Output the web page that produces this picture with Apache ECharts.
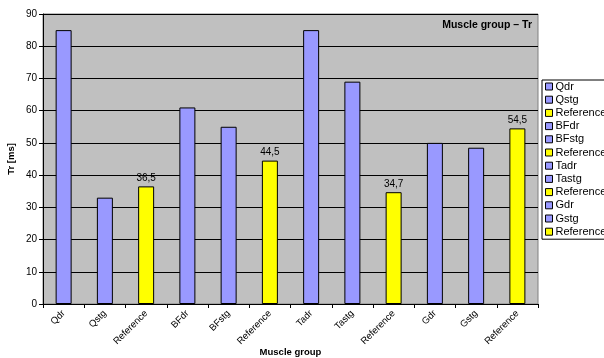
<!DOCTYPE html>
<html>
<head>
<meta charset="utf-8">
<script src="https://cdn.jsdelivr.net/npm/echarts@6/dist/echarts.min.js"></script>
<style>
  html, body { margin: 0; padding: 0; background: #fff; }
  #chart { width: 604px; height: 358px; }
</style>
</head>
<body>
<div id="chart"></div>
<script>
// Relaxation time per muscle and measurement
const categories = ['Qdr', 'Qstg', 'Reference', 'BFdr', 'BFstg', 'Reference',
                    'Tadr', 'Tastg', 'Reference', 'Gdr', 'Gstg', 'Reference'];
const values = [85, 33, 36.5, 61, 55, 44.5, 85, 69, 34.7, 50, 48.5, 54.5];
const yTicks = [0, 10, 20, 30, 40, 50, 60, 70, 80, 90];

const BLUE = '#9999ff';
const YELLOW = '#ffff00';
const FONT = '"Liberation Sans", Arial, sans-serif';

// unique series keys (the three "Reference" bars share a label)
const seriesKeys = categories.map((c, i) => c + '#' + i);

const chart = echarts.init(document.getElementById('chart'), null, { renderer: 'canvas' });

// one series per bar so each gets its own legend entry
const series = categories.map((name, i) => {
  const isRef = name === 'Reference';
  return {
    name: seriesKeys[i],
    type: 'bar',
    barWidth: 16,
    barGap: '-100%',
    data: categories.map((_, j) => (j === i ? values[i] : null)),
    itemStyle: {
      color: isRef ? YELLOW : BLUE,
      borderColor: '#000',
      borderWidth: 1
    },
    label: {
      show: isRef,
      position: 'top',
      distance: 3,
      color: '#000',
      fontFamily: FONT,
      fontSize: 10,
      formatter: p => String(p.value).replace('.', ',')
    },
    animation: false
  };
});

chart.setOption({
  backgroundColor: '#fff',
  animation: false,
  textStyle: { fontFamily: FONT },
  title: {
    text: 'Muscle group \u2013 Tr',
    right: 67,
    top: 15,
    textStyle: { fontFamily: FONT, fontSize: 10.5, fontWeight: 'bold', color: '#000' }
  },
  legend: {
    orient: 'vertical',
    left: 542,
    top: 80,
    width: 80,
    padding: [1, 20, 2, 3],
    backgroundColor: '#fff',
    borderColor: '#000',
    borderWidth: 1,
    borderRadius: 0,
    itemWidth: 7,
    itemHeight: 7,
    itemGap: 2.2,
    icon: 'rect',
    itemStyle: { borderColor: '#000', borderWidth: 1 },
    textStyle: { fontFamily: FONT, fontSize: 11, color: '#000', padding: [0, 0, 0, -2] },
    formatter: key => key.split('#')[0],
    data: seriesKeys.slice(),
    selectedMode: false
  },
  grid: {
    left: 43, right: 66, top: 14, bottom: 54,
    outerBoundsMode: 'none',
    containLabel: false,
    show: true,
    backgroundColor: '#c0c0c0',
    borderColor: '#808080',
    borderWidth: 1
  },
  xAxis: {
    type: 'category',
    data: categories,
    name: 'Muscle group',
    nameLocation: 'middle',
    nameGap: 43,
    nameMoveOverlap: false,
    nameTextStyle: { fontFamily: FONT, fontSize: 9.5, fontWeight: 'bold', color: '#000' },
    axisLine: { lineStyle: { color: '#000', width: 1 } },
    axisTick: { show: true, alignWithLabel: false, length: 4, lineStyle: { color: '#000' } },
    axisLabel: {
      rotate: 45,
      interval: 0,
      margin: 8,
      fontFamily: FONT,
      fontSize: 9.5,
      color: '#000'
    },
    splitLine: { show: false }
  },
  yAxis: {
    type: 'value',
    min: yTicks[0],
    max: yTicks[yTicks.length - 1],
    interval: 10,
    name: 'Tr [ms]',
    nameLocation: 'middle',
    nameGap: 27,
    nameMoveOverlap: false,
    nameRotate: 90,
    nameTextStyle: { fontFamily: FONT, fontSize: 9.5, fontWeight: 'bold', color: '#000' },
    axisLine: { show: true, lineStyle: { color: '#000', width: 1 } },
    axisTick: { show: true, length: 4, inside: false, lineStyle: { color: '#000' } },
    axisLabel: { fontFamily: FONT, fontSize: 10, color: '#000', margin: 6 },
    splitLine: { show: true, lineStyle: { color: '#000', width: 1 } }
  },
  series: series
});
</script>
</body>
</html>
